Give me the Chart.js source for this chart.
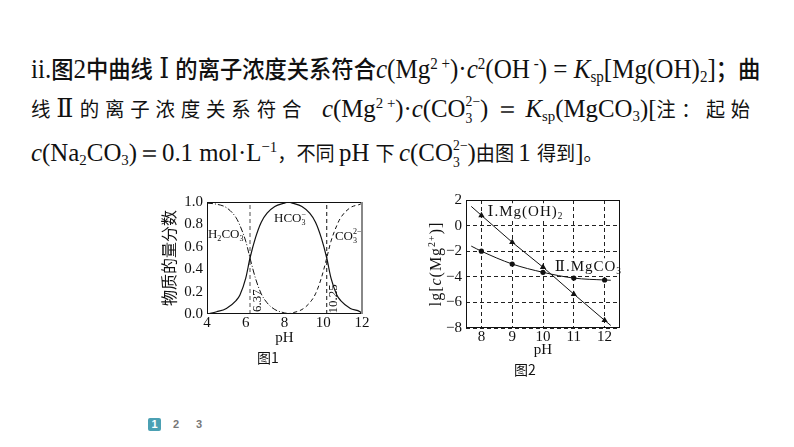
<!DOCTYPE html>
<html>
<head>
<meta charset="utf-8">
<script src="https://cdn.jsdelivr.net/npm/chart.js@4.4.1/dist/chart.umd.min.js"></script>
<style>
  html, body { margin: 0; padding: 0; background: #fff; }
  body { width: 794px; height: 447px; position: relative; overflow: hidden; color: #111; font-family: "Liberation Serif", "DejaVu Serif", serif; }
  .line { position: absolute; white-space: nowrap; height: 40px; line-height: 40px; transform-origin: 0 50%; }
  .zh1 { font-family: "Noto Sans CJK SC", sans-serif; font-size: 24px; font-weight: 500; }
  .zh { font-family: "Noto Sans CJK SC", sans-serif; font-size: 20px; }
  .sp { letter-spacing: 6px; }
  .la { font-size: 27px; }
  .la2 { font-size: 26px; }
  .up { font-size: .6em; vertical-align: .55em; line-height: 0; }
  .dn { font-size: .6em; vertical-align: -.25em; line-height: 0; }
  .stk { display: inline-block; font-size: .55em; line-height: 1.25; vertical-align: -.45em; text-align: left; }
  .stk span { display: block; }
  canvas { position: absolute; }
  .cap { position: absolute; font-family: "Noto Sans CJK SC", sans-serif; font-size: 14px; transform: translate(-50%, -50%); }
  .pg { position: absolute; font-family: "Liberation Sans", sans-serif; font-weight: bold; font-size: 11px; text-align: center; }
</style>
</head>
<body>

<div class="line" data-x="31" data-c="68" data-w="729">
  <span class="la">ii.</span><span class="zh1">图</span><span class="la">2</span><span class="zh1">中曲线</span><span class="la"> Ⅰ </span><span class="zh1">的离子浓度关系符合</span><span class="la"><i>c</i>(Mg<span class="up">2 +</span>)·<i>c</i><span class="up">2</span>(OH<span class="up"> -</span>) = <i>K</i><span class="dn">sp</span>[Mg(OH)<span class="dn">2</span>]</span><span class="zh1">；曲</span>
</div>

<div class="line" data-x="31" data-c="109" data-w="276">
  <span class="zh sp">线</span><span class="la2">Ⅱ </span><span class="zh sp">的离子浓度关系符合</span>
</div>
<div class="line" data-x="322" data-c="109" data-w="434">
  <span class="la2"><i>c</i>(Mg<span class="up">2 +</span>)·<i>c</i>(CO<span class="stk"><span>2−</span><span>3</span></span>) ＝ <i>K</i><span class="dn">sp</span>(MgCO<span class="dn">3</span>)[</span><span class="zh sp">注：起始</span>
</div>

<div class="line" data-x="31" data-c="153" data-w="572">
  <span class="la2"><i>c</i>(Na<span class="dn">2</span>CO<span class="dn">3</span>)＝0.1 mol·L<span class="up">−1</span></span><span class="zh">，不同 </span><span class="la2">pH </span><span class="zh">下 </span><span class="la2"><i>c</i>(CO<span class="stk"><span>2−</span><span>3</span></span>)</span><span class="zh">由图 </span><span class="la2">1 </span><span class="zh">得到</span><span class="la2">]</span><span class="zh">。</span>
</div>

<canvas id="fig1" width="230" height="190" style="left:150px;top:185px;width:230px;height:190px"></canvas>
<canvas id="fig2" width="220" height="200" style="left:420px;top:185px;width:220px;height:200px"></canvas>
<div class="cap" style="left:268px;top:357px">图1</div>
<div class="cap" style="left:525px;top:369px">图2</div>

<div class="pg" style="left:148px;top:418px;width:13px;height:13px;line-height:13px;background:#4ba0b3;color:#fff;border-radius:2px">1</div>
<div class="pg" style="left:170px;top:418px;width:12px;height:13px;line-height:13px;color:#777">2</div>
<div class="pg" style="left:193px;top:418px;width:12px;height:13px;line-height:13px;color:#777">3</div>

<script>
// ---- 图1: 物质的量分数 vs pH ----
const fracTicks = [0, 0.2, 0.4, 0.6, 0.8, 1.0];
const h2co3PH   = [4, 4.5, 5, 5.5, 5.7, 6, 6.22, 6.5, 6.8, 7.1, 7.5, 8, 8.3];
const h2co3Frac = [0.99, 0.98, 0.95, 0.86, 0.79, 0.65, 0.5, 0.32, 0.18, 0.1, 0.04, 0.01, 0];
const hco3PH    = [4, 4.5, 5, 5.5, 5.7, 6, 6.22, 6.5, 6.8, 7.1, 7.5, 8, 8.2, 8.4, 8.9, 9.3, 9.6, 9.9, 10.18, 10.4, 10.7, 10.9, 11.4, 11.9, 12];
const hco3Frac  = [0, 0.02, 0.05, 0.12, 0.17, 0.32, 0.5, 0.68, 0.82, 0.9, 0.96, 0.99, 1.0, 0.99, 0.96, 0.9, 0.82, 0.68, 0.5, 0.32, 0.17, 0.12, 0.05, 0.02, 0];
const co3PH     = [8.1, 8.4, 8.9, 9.3, 9.6, 9.9, 10.18, 10.4, 10.7, 10.9, 11.4, 11.9, 12];
const co3Frac   = [0, 0.01, 0.04, 0.1, 0.18, 0.32, 0.5, 0.65, 0.79, 0.86, 0.95, 0.98, 0.99];
const crossPH   = [6.22, 10.18];
const pKaLabels = ["6.37", "10.25"];

// ---- 图2: lg[c(Mg2+)] vs pH ----
const phPoints  = [8, 9, 10, 11, 12];
const lgMgOH2   = [0.8, -1.3, -3.25, -5.35, -7.4];
const lgMgCO3   = [-2.0, -3.0, -3.65, -4.1, -4.25];
const fitEndsPH = [7.67, 12.2];      // drawn lines run a bit past the points
const lgMgOH2Ends = [1.5, -7.8];
const lgMgCO3Ends = [-1.6, -4.27];
const xTicks2   = [8, 9, 10, 11, 12];

const SERIF = '"Liberation Serif","DejaVu Serif",serif';
const CJK = '"Noto Sans CJK SC",sans-serif';
const INK = "#111";

const pts = (xs, ys) => xs.map((x, i) => ({ x, y: ys[i] }));
const withEnds = (ends, vals, xs, ys) =>
  [{ x: ends[0], y: vals[0] }, ...pts(xs, ys), { x: ends[1], y: vals[1] }];

// text with sub/superscripts, parts = [[text, kind]]
function drawRich(ctx, parts, x, y, size, align, bg) {
  const small = size * 0.62;
  const font = (sz, it) => (it ? "italic " : "") + sz + "px " + SERIF;
  let w = 0;
  const items = parts.map(([t, k]) => {
    let ww;
    if (k === "stk") {
      ctx.font = font(small);
      ww = Math.max(ctx.measureText(t[0]).width, ctx.measureText(t[1]).width);
    } else {
      ctx.font = font(k === "sub" || k === "sup" ? small : size, k === "i");
      ww = ctx.measureText(t).width;
    }
    const it = { t, k, dx: w };
    w += ww;
    return it;
  });
  const x0 = align === "center" ? x - w / 2 : x;
  if (bg) {
    ctx.fillStyle = "#fff";
    ctx.fillRect(x0 - 1, y - size * 0.85, w + 2, size * 1.15);
  }
  ctx.fillStyle = INK;
  ctx.textAlign = "left";
  ctx.textBaseline = "alphabetic";
  items.forEach(({ t, k, dx }) => {
    if (k === "stk") {
      ctx.font = font(small);
      ctx.fillText(t[0], x0 + dx, y + size * 0.22);
      ctx.fillText(t[1], x0 + dx, y - size * 0.42);
    } else if (k === "sub") {
      ctx.font = font(small);
      ctx.fillText(t, x0 + dx, y + size * 0.22);
    } else if (k === "sup") {
      ctx.font = font(small);
      ctx.fillText(t, x0 + dx, y - size * 0.42);
    } else {
      ctx.font = font(size, k === "i");
      ctx.fillText(t, x0 + dx, y);
    }
  });
  return w;
}

function drawLabels(chart, opts, withBg) {
  const { ctx, scales } = chart;
  (opts.labels || []).forEach((l) => {
    if (!!l.bg !== withBg) return;
    const px = scales.x.getPixelForValue(l.x);
    const py = scales.y.getPixelForValue(l.y);
    ctx.save();
    ctx.letterSpacing = (opts.spacing || 0) + "px";
    ctx.translate(px, py);
    if (l.rotate) ctx.rotate(l.rotate * Math.PI / 180);
    drawRich(ctx, l.parts, 0, l.size * 0.33, l.size, l.align || "left", l.bg);
    ctx.restore();
  });
}

const decor = {
  id: "decor",
  beforeDatasetsDraw(chart, args, opts) {
    drawLabels(chart, opts, true);
  },
  afterDatasetsDraw(chart, args, opts) {
    const { ctx, chartArea: a } = chart;
    drawLabels(chart, opts, false);
    ctx.save();
    ctx.strokeStyle = INK;
    ctx.lineWidth = 1;
    ctx.strokeRect(a.left + 0.5, a.top + 0.5, a.width - 1, a.height - 1);
    if (opts.rightEdge) {
      ctx.strokeStyle = opts.rightEdge;
      ctx.lineWidth = 2;
      ctx.beginPath();
      ctx.moveTo(a.right, a.top);
      ctx.lineTo(a.right, a.bottom);
      ctx.stroke();
    }
    if (opts.yTitle) {
      ctx.translate(a.left + opts.yTitle.dx, (a.top + a.bottom) / 2);
      ctx.rotate(-Math.PI / 2);
      ctx.letterSpacing = "1px";
      drawRich(ctx, opts.yTitle.parts, 0, opts.yTitle.size * 0.33, opts.yTitle.size, "center");
    }
    ctx.restore();
  },
};

Chart.defaults.color = INK;
Chart.defaults.font.family = SERIF;

const tickFont = { family: SERIF, size: 15 };

// 图1
new Chart(document.getElementById("fig1"), {
  type: "line",
  data: {
    datasets: [
      { label: "H2CO3", data: pts(h2co3PH, h2co3Frac), borderColor: INK, borderWidth: 1, borderDash: [6, 2, 1, 2], pointRadius: 0, cubicInterpolationMode: "monotone" },
      { label: "HCO3-", data: pts(hco3PH, hco3Frac), borderColor: INK, borderWidth: 1.2, pointRadius: 0, cubicInterpolationMode: "monotone" },
      { label: "CO32-", data: pts(co3PH, co3Frac), borderColor: INK, borderWidth: 1, borderDash: [4, 3], pointRadius: 0, cubicInterpolationMode: "monotone" },
      { label: "pKa1", data: pts([crossPH[0], crossPH[0]], [0, 1]), borderColor: "#777", borderWidth: 1.3, borderDash: [4, 3], pointRadius: 0 },
      { label: "pKa2", data: pts([crossPH[1], crossPH[1]], [0, 1]), borderColor: INK, borderWidth: 1, borderDash: [4, 3], pointRadius: 0 },
    ],
  },
  options: {
    responsive: false,
    animation: false,
    devicePixelRatio: 1,
    layout: { padding: { left: 0, right: 18, top: 17, bottom: 25 } },
    plugins: {
      legend: { display: false },
      tooltip: { enabled: false },
      decor: {
        rightEdge: "#888",
        labels: [
          { parts: [["H", "n"], ["2", "sub"], ["CO", "n"], ["3", "sub"]], x: 4.05, y: 0.72, size: 13, bg: true },
          { parts: [["HCO", "n"], [["3", "−"], "stk"]], x: 7.46, y: 0.86, size: 13 },
          { parts: [["CO", "n"], [["3", "2−"], "stk"]], x: 10.6, y: 0.7, size: 13 },
          { parts: [[pKaLabels[0], "n"]], x: 6.58, y: 0.12, size: 13, rotate: -90, align: "center" },
          { parts: [[pKaLabels[1], "n"]], x: 10.49, y: 0.135, size: 13, rotate: -90, align: "center" },
        ],
      },
    },
    scales: {
      x: {
        type: "linear", min: 4, max: 12,
        afterFit: (s) => { s.height = 36; },
        ticks: { stepSize: 2, padding: 0, font: tickFont, color: INK },
        grid: { display: false, drawTicks: false },
        border: { display: false },
        title: { display: true, text: "pH", font: { family: SERIF, size: 15 }, color: INK, padding: { top: 0, bottom: 3 } },
      },
      y: {
        min: 0, max: 1,
        afterFit: (s) => { s.width = 57; },
        afterBuildTicks: (s) => { s.ticks = fracTicks.map((v) => ({ value: v })); },
        ticks: { padding: 4, font: tickFont, color: INK, callback: (v) => Number(v).toFixed(1) },
        grid: { display: false, drawTicks: false },
        border: { display: false },
        title: { display: true, text: "物质的量分数", font: { family: CJK, size: 16 }, color: INK, padding: { top: 9, bottom: 0 } },
      },
    },
  },
  plugins: [decor],
});

// 图2
new Chart(document.getElementById("fig2"), {
  type: "line",
  data: {
    datasets: [
      {
        label: "Mg(OH)2", data: withEnds(fitEndsPH, lgMgOH2Ends, phPoints, lgMgOH2),
        borderColor: INK, borderWidth: 1, backgroundColor: INK, pointStyle: "triangle",
        pointRadius: [0, 3.6, 3.6, 3.6, 3.6, 3.6, 0], pointBorderWidth: 0, tension: 0,
      },
      {
        label: "MgCO3", data: withEnds(fitEndsPH, lgMgCO3Ends, phPoints, lgMgCO3),
        borderColor: INK, borderWidth: 1, backgroundColor: INK, pointStyle: "circle",
        pointRadius: [0, 2.6, 2.6, 2.6, 2.6, 2.6, 0], pointBorderWidth: 0, cubicInterpolationMode: "monotone",
      },
    ],
  },
  options: {
    responsive: false,
    animation: false,
    devicePixelRatio: 1,
    layout: { padding: { left: 0, right: 20, top: 15, bottom: 25 } },
    plugins: {
      legend: { display: false },
      tooltip: { enabled: false },
      decor: {
        spacing: 1,
        yTitle: { parts: [["lg[", "n"], ["c", "i"], ["(Mg", "n"], ["2+", "sup"], [")]", "n"]], size: 16, dx: -30 },
        labels: [
          { parts: [["Ⅰ.Mg(OH)", "n"], ["2", "sub"]], x: 8.2, y: 1.14, size: 15, bg: true },
          { parts: [["Ⅱ.MgCO", "n"], ["3", "sub"]], x: 10.38, y: -3.16, size: 15, bg: true },
        ],
      },
    },
    scales: {
      x: {
        type: "linear", min: 7.5, max: 12.5,
        afterFit: (s) => { s.height = 32; },
        afterBuildTicks: (s) => { s.ticks = xTicks2.map((v) => ({ value: v })); },
        ticks: { padding: 0, font: tickFont, color: INK },
        grid: { color: "#222", lineWidth: 1, drawTicks: false },
        border: { display: false, dash: [4, 3] },
        title: { display: true, text: "pH", font: { family: SERIF, size: 15 }, color: INK, padding: { top: 0, bottom: 1 } },
      },
      y: {
        min: -8, max: 2,
        afterFit: (s) => { s.width = 46; },
        ticks: {
          stepSize: 1, padding: 4, font: tickFont, color: INK,
          callback: (v) => (v % 2 === 0 ? (v < 0 ? "−" + Math.abs(v) : String(v)) : ""),
        },
        grid: { color: "#222", lineWidth: 1, drawTicks: false },
        border: { display: false, dash: [4, 3] },
      },
    },
  },
  plugins: [decor],
});

// squeeze each paragraph line into the width it has on the slide
function fitLines() {
  document.querySelectorAll(".line").forEach((el) => {
    el.style.transform = "none";
    el.style.left = el.dataset.x + "px";
    el.style.top = (el.dataset.c - 20) + "px";
    const natural = el.scrollWidth;
    el.style.transform = "scaleX(" + (el.dataset.w / natural) + ")";
  });
}
fitLines();
document.fonts.ready.then(fitLines);
</script>
</body>
</html>
